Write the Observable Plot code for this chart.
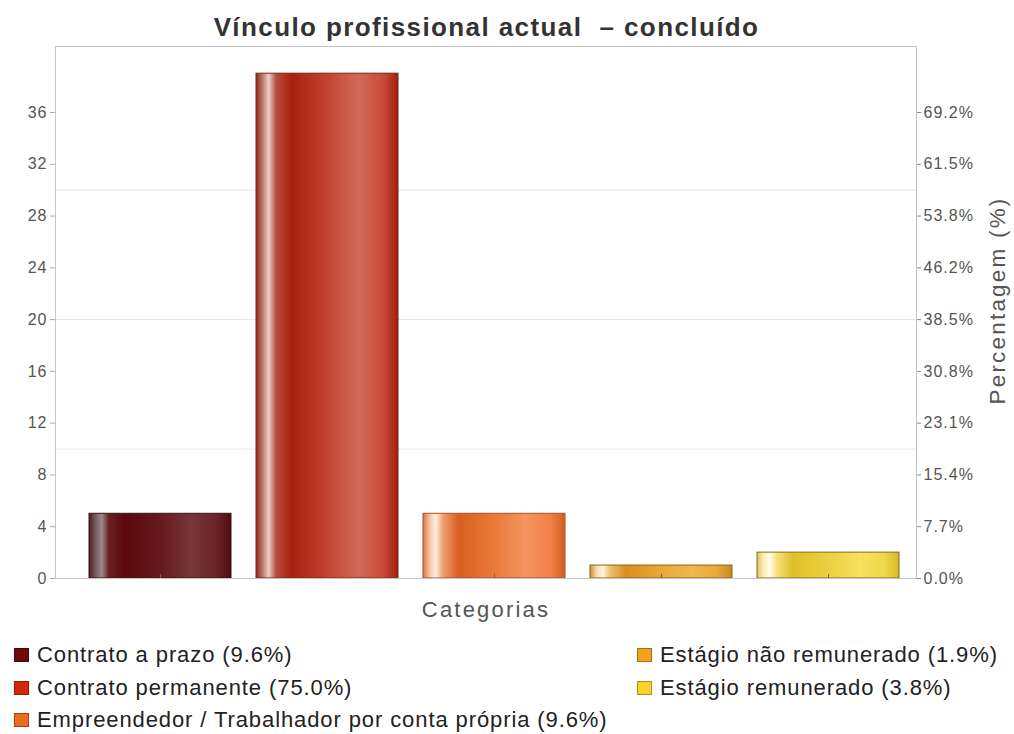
<!DOCTYPE html>
<html>
<head>
<meta charset="utf-8">
<script src="https://cdn.jsdelivr.net/npm/d3@7"></script>
<script src="https://cdn.jsdelivr.net/npm/@observablehq/plot@0.6"></script>
<style>
  html, body { margin: 0; padding: 0; background: #fff; }
  body { font-family: "Liberation Sans", Arial, Helvetica, sans-serif; }
  #wrap { position: relative; width: 1014px; height: 734px; overflow: hidden; }
  #title { position: absolute; left: 0; top: 12px; width: 973px; text-align: center;
           font-size: 26px; font-weight: bold; color: #333; white-space: pre; letter-spacing: 1.4px; }
  #chart { position: absolute; left: 0; top: 44px; }
  .lg { position: absolute; font-size: 22px; letter-spacing: 0.9px; color: #222; display: flex; align-items: center; white-space: nowrap; }
  .sw { width: 15px; height: 14px; margin-right: 8px; border: 1px solid rgba(0,0,0,0.3); box-sizing: border-box; }
  .ticklab text { letter-spacing: 1px; }
  .axtitle text { letter-spacing: 2.2px; }
</style>
</head>
<body>
<div id="wrap">
  <div id="title">Vínculo profissional actual  – concluído</div>
  <div id="chart"></div>
  <div id="legend"></div>
</div>
<script>
// ---- data ----
const categories = [
  "Contrato a prazo",
  "Contrato permanente",
  "Empreendedor / Trabalhador por conta própria",
  "Estágio não remunerado",
  "Estágio remunerado"
];
const counts = [5, 39, 5, 1, 2];
const yTicks = [0, 4, 8, 12, 16, 20, 24, 28, 32, 36];
const gridValues = [10, 20, 30];

// ---- styles ----
const legendColors = ["#6e0a0c", "#d2260e", "#ee6a1e", "#f2a21e", "#f8d22a"];
const barStrokes = ["#3a1414", "#7a2212", "#a85020", "#8a6018", "#807018"];
const gradientStops = [
  [[0,"#4a2020"],[0.05,"#7a6060"],[0.09,"#9a8a8a"],[0.14,"#6a2020"],[0.25,"#5c080c"],[0.5,"#661a1e"],[0.72,"#763638"],[0.9,"#6a2428"],[1,"#4e0c10"]],
  [[0,"#8a2a1a"],[0.05,"#c08070"],[0.09,"#e8d0c8"],[0.14,"#b85040"],[0.25,"#a82010"],[0.5,"#c04430"],[0.72,"#d06a58"],[0.9,"#c84a38"],[1,"#a02010"]],
  [[0,"#d87840"],[0.05,"#f8c8a8"],[0.09,"#fff0e0"],[0.14,"#f0a070"],[0.25,"#d86020"],[0.5,"#e87a38"],[0.72,"#f49460"],[0.9,"#f08048"],[1,"#d06020"]],
  [[0,"#d09040"],[0.05,"#f8e0b0"],[0.09,"#fff4e0"],[0.14,"#f0c070"],[0.25,"#d8901e"],[0.5,"#e8a838"],[0.72,"#f0b850"],[0.9,"#e8a838"],[1,"#c88820"]],
  [[0,"#e0c060"],[0.05,"#fff0c0"],[0.09,"#fffce8"],[0.14,"#f8e080"],[0.25,"#e0c028"],[0.5,"#ecd040"],[0.72,"#f8e060"],[0.9,"#f0d848"],[1,"#d8b820"]]
];

const total = d3.sum(counts);
const data = categories.map((c, i) => ({cat: c, count: counts[i], idx: i}));
const pct = v => (v / total * 100).toFixed(1) + "%";

const chart = Plot.plot({
  width: 1014,
  height: 582,
  marginTop: 2,
  marginLeft: 55,
  marginRight: 98,
  marginBottom: 48,
  style: {fontFamily: '"Liberation Sans", Arial, sans-serif', background: "transparent"},
  x: {domain: categories, range: [88, 900], paddingInner: 0.15, paddingOuter: 0, axis: null},
  y: {domain: [0, 41.1], axis: null},
  color: {type: "identity"},
  marks: [
    Plot.ruleY(gridValues, {stroke: "#e4e4e4", strokeWidth: 1}),
    Plot.barY(data, {
      x: "cat", y: "count",
      fill: d => `url(#barGrad${d.idx})`,
      stroke: d => barStrokes[d.idx],
      strokeWidth: 1
    }),
    Plot.axisX({tickSize: 4, dy: -4, tickFormat: () => "", stroke: "#666", label: null}),
    Plot.frame({stroke: "#c4c4c4"}),
    Plot.axisY({ticks: yTicks, anchor: "left", tickSize: 5, tickPadding: 3, label: null,
      fontSize: 16, fill: "#555", stroke: "#aaa", className: "ticklab"}),
    Plot.axisY({ticks: yTicks, anchor: "right", tickSize: 4, tickPadding: 3, label: null,
      tickFormat: pct, fontSize: 16, fill: "#555", stroke: "#888", className: "ticklab"}),
    Plot.ruleX([0], {frameAnchor: "right", stroke: "#888"}),
    Plot.text(["Percentagem (%)"], {frameAnchor: "right", dx: 81, dy: -12, rotate: -90,
      fontSize: 22.5, fill: "#555", textAnchor: "middle", lineAnchor: "middle", className: "axtitle"}),
    Plot.text(["Categorias"], {frameAnchor: "bottom", dy: 31,
      fontSize: 22, fill: "#555", textAnchor: "middle", lineAnchor: "middle", className: "axtitle"})
  ]
});

// gradients for the bars
const defs = d3.select(chart).insert("defs", ":first-child");
gradientStops.forEach((stops, i) => {
  const g = defs.append("linearGradient").attr("id", "barGrad" + i)
    .attr("x1", 0).attr("x2", 1).attr("y1", 0).attr("y2", 0);
  stops.forEach(([o, c]) => g.append("stop").attr("offset", o).attr("stop-color", c));
});

document.getElementById("chart").appendChild(chart);

// legend
const legendPos = [
  [14, 655], [14, 688], [14, 720], [637, 655], [637, 688]
];
const legend = document.getElementById("legend");
categories.forEach((c, i) => {
  const el = document.createElement("div");
  el.className = "lg";
  el.style.left = legendPos[i][0] + "px";
  el.style.top = (legendPos[i][1] - 13) + "px";
  el.innerHTML = `<span class="sw" style="background:${legendColors[i]}"></span><span>${c} (${pct(counts[i])})</span>`;
  legend.appendChild(el);
});
</script>
</body>
</html>
